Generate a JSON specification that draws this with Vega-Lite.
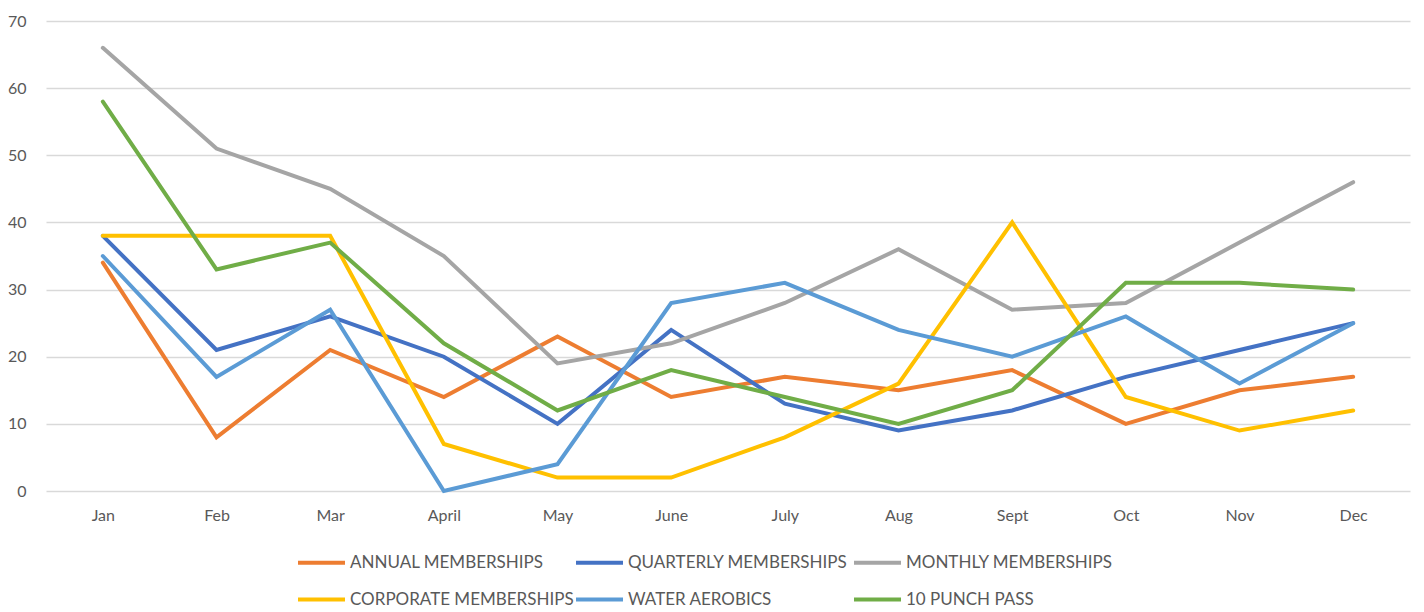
{
  "$schema": "https://vega.github.io/schema/vega-lite/v6.json",
  "autosize": "none",
  "width": 1364,
  "height": 470,
  "padding": {"left": 46, "top": 21, "right": 14, "bottom": 121},
  "background": "white",
  "config": {
    "view": {"stroke": null},
    "font": "Lato",
    "axis": {"labelFont": "Lato", "labelFontSize": 16, "labelColor": "#595959"}
  },
  "data": {
    "values": [
      {"month": "Jan", "series": "ANNUAL MEMBERSHIPS", "value": 34},
      {"month": "Feb", "series": "ANNUAL MEMBERSHIPS", "value": 8},
      {"month": "Mar", "series": "ANNUAL MEMBERSHIPS", "value": 21},
      {"month": "April", "series": "ANNUAL MEMBERSHIPS", "value": 14},
      {"month": "May", "series": "ANNUAL MEMBERSHIPS", "value": 23},
      {"month": "June", "series": "ANNUAL MEMBERSHIPS", "value": 14},
      {"month": "July", "series": "ANNUAL MEMBERSHIPS", "value": 17},
      {"month": "Aug", "series": "ANNUAL MEMBERSHIPS", "value": 15},
      {"month": "Sept", "series": "ANNUAL MEMBERSHIPS", "value": 18},
      {"month": "Oct", "series": "ANNUAL MEMBERSHIPS", "value": 10},
      {"month": "Nov", "series": "ANNUAL MEMBERSHIPS", "value": 15},
      {"month": "Dec", "series": "ANNUAL MEMBERSHIPS", "value": 17},
      {"month": "Jan", "series": "QUARTERLY MEMBERSHIPS", "value": 38},
      {"month": "Feb", "series": "QUARTERLY MEMBERSHIPS", "value": 21},
      {"month": "Mar", "series": "QUARTERLY MEMBERSHIPS", "value": 26},
      {"month": "April", "series": "QUARTERLY MEMBERSHIPS", "value": 20},
      {"month": "May", "series": "QUARTERLY MEMBERSHIPS", "value": 10},
      {"month": "June", "series": "QUARTERLY MEMBERSHIPS", "value": 24},
      {"month": "July", "series": "QUARTERLY MEMBERSHIPS", "value": 13},
      {"month": "Aug", "series": "QUARTERLY MEMBERSHIPS", "value": 9},
      {"month": "Sept", "series": "QUARTERLY MEMBERSHIPS", "value": 12},
      {"month": "Oct", "series": "QUARTERLY MEMBERSHIPS", "value": 17},
      {"month": "Nov", "series": "QUARTERLY MEMBERSHIPS", "value": 21},
      {"month": "Dec", "series": "QUARTERLY MEMBERSHIPS", "value": 25},
      {"month": "Jan", "series": "MONTHLY MEMBERSHIPS", "value": 66},
      {"month": "Feb", "series": "MONTHLY MEMBERSHIPS", "value": 51},
      {"month": "Mar", "series": "MONTHLY MEMBERSHIPS", "value": 45},
      {"month": "April", "series": "MONTHLY MEMBERSHIPS", "value": 35},
      {"month": "May", "series": "MONTHLY MEMBERSHIPS", "value": 19},
      {"month": "June", "series": "MONTHLY MEMBERSHIPS", "value": 22},
      {"month": "July", "series": "MONTHLY MEMBERSHIPS", "value": 28},
      {"month": "Aug", "series": "MONTHLY MEMBERSHIPS", "value": 36},
      {"month": "Sept", "series": "MONTHLY MEMBERSHIPS", "value": 27},
      {"month": "Oct", "series": "MONTHLY MEMBERSHIPS", "value": 28},
      {"month": "Nov", "series": "MONTHLY MEMBERSHIPS", "value": 37},
      {"month": "Dec", "series": "MONTHLY MEMBERSHIPS", "value": 46},
      {"month": "Jan", "series": "CORPORATE MEMBERSHIPS", "value": 38},
      {"month": "Feb", "series": "CORPORATE MEMBERSHIPS", "value": 38},
      {"month": "Mar", "series": "CORPORATE MEMBERSHIPS", "value": 38},
      {"month": "April", "series": "CORPORATE MEMBERSHIPS", "value": 7},
      {"month": "May", "series": "CORPORATE MEMBERSHIPS", "value": 2},
      {"month": "June", "series": "CORPORATE MEMBERSHIPS", "value": 2},
      {"month": "July", "series": "CORPORATE MEMBERSHIPS", "value": 8},
      {"month": "Aug", "series": "CORPORATE MEMBERSHIPS", "value": 16},
      {"month": "Sept", "series": "CORPORATE MEMBERSHIPS", "value": 40},
      {"month": "Oct", "series": "CORPORATE MEMBERSHIPS", "value": 14},
      {"month": "Nov", "series": "CORPORATE MEMBERSHIPS", "value": 9},
      {"month": "Dec", "series": "CORPORATE MEMBERSHIPS", "value": 12},
      {"month": "Jan", "series": "WATER AEROBICS", "value": 35},
      {"month": "Feb", "series": "WATER AEROBICS", "value": 17},
      {"month": "Mar", "series": "WATER AEROBICS", "value": 27},
      {"month": "April", "series": "WATER AEROBICS", "value": 0},
      {"month": "May", "series": "WATER AEROBICS", "value": 4},
      {"month": "June", "series": "WATER AEROBICS", "value": 28},
      {"month": "July", "series": "WATER AEROBICS", "value": 31},
      {"month": "Aug", "series": "WATER AEROBICS", "value": 24},
      {"month": "Sept", "series": "WATER AEROBICS", "value": 20},
      {"month": "Oct", "series": "WATER AEROBICS", "value": 26},
      {"month": "Nov", "series": "WATER AEROBICS", "value": 16},
      {"month": "Dec", "series": "WATER AEROBICS", "value": 25},
      {"month": "Jan", "series": "10 PUNCH PASS", "value": 58},
      {"month": "Feb", "series": "10 PUNCH PASS", "value": 33},
      {"month": "Mar", "series": "10 PUNCH PASS", "value": 37},
      {"month": "April", "series": "10 PUNCH PASS", "value": 22},
      {"month": "May", "series": "10 PUNCH PASS", "value": 12},
      {"month": "June", "series": "10 PUNCH PASS", "value": 18},
      {"month": "July", "series": "10 PUNCH PASS", "value": 14},
      {"month": "Aug", "series": "10 PUNCH PASS", "value": 10},
      {"month": "Sept", "series": "10 PUNCH PASS", "value": 15},
      {"month": "Oct", "series": "10 PUNCH PASS", "value": 31},
      {"month": "Nov", "series": "10 PUNCH PASS", "value": 31},
      {"month": "Dec", "series": "10 PUNCH PASS", "value": 30}
    ]
  },
  "mark": {"type": "line", "strokeWidth": 4, "strokeCap": "round"},
  "encoding": {
    "x": {
      "field": "month",
      "type": "ordinal",
      "sort": ["Jan", "Feb", "Mar", "April", "May", "June", "July", "Aug", "Sept", "Oct", "Nov", "Dec"],
      "scale": {"type": "point", "padding": 0.5},
      "axis": {
        "title": null,
        "labelAngle": 0,
        "domain": false,
        "ticks": false,
        "grid": false,
        "labelPadding": 16
      }
    },
    "y": {
      "field": "value",
      "type": "quantitative",
      "scale": {"domain": [0, 70], "nice": false, "zero": true},
      "axis": {
        "title": null,
        "values": [0, 10, 20, 30, 40, 50, 60, 70],
        "domain": false,
        "ticks": false,
        "grid": true,
        "gridColor": "#D9D9D9",
        "gridWidth": 1.3,
        "labelPadding": 20
      }
    },
    "color": {
      "field": "series",
      "type": "nominal",
      "sort": null,
      "scale": {
        "domain": ["ANNUAL MEMBERSHIPS", "QUARTERLY MEMBERSHIPS", "MONTHLY MEMBERSHIPS", "CORPORATE MEMBERSHIPS", "WATER AEROBICS", "10 PUNCH PASS"],
        "range": ["#ED7D31", "#4472C4", "#A5A5A5", "#FFC000", "#5B9BD5", "#70AD47"]
      },
      "legend": {
        "title": null,
        "orient": "none",
        "legendX": 250,
        "legendY": 516,
        "direction": "horizontal",
        "columns": 3,
        "gridAlign": "all",
        "columnPadding": -7,
        "rowPadding": 3,
        "padding": 0,
        "symbolType": "stroke",
        "symbolSize": 2209,
        "symbolStrokeWidth": 4,
        "labelOffset": 3,
        "labelFont": "Lato",
        "labelFontSize": 17,
        "labelColor": "#595959",
        "labelLimit": 400
      }
    }
  }
}
